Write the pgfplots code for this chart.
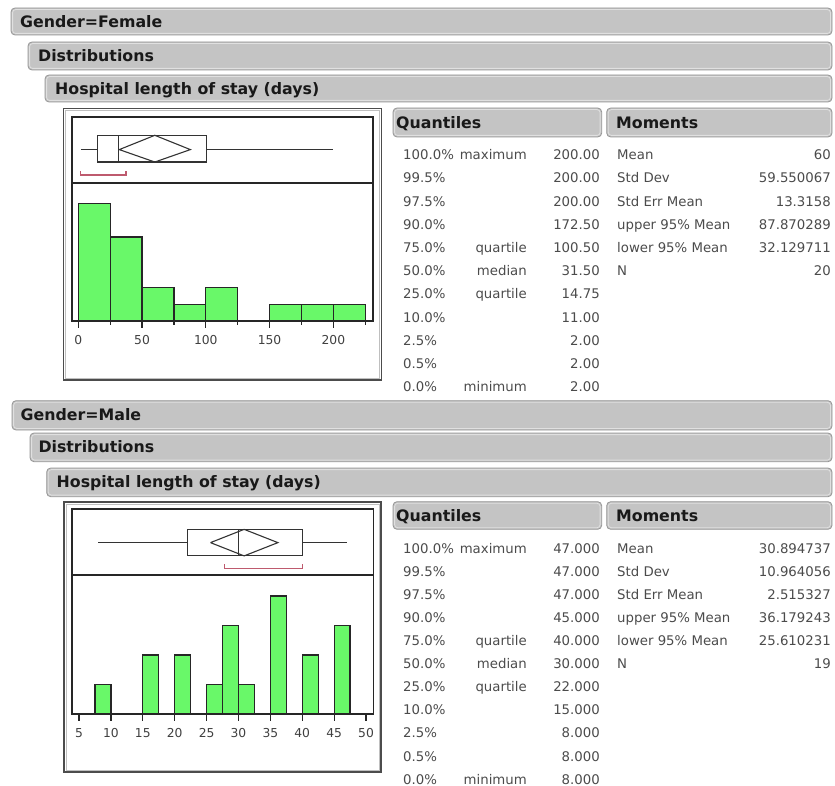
\documentclass[border=0pt]{standalone}
\usepackage{fontspec}
\setmainfont{DejaVu Sans}
\usepackage{pgfplots}
\pgfplotsset{compat=1.18}
\definecolor{hdrfill}{RGB}{196,196,196}
\definecolor{hdrdraw}{RGB}{150,150,150}
\definecolor{hdrhi}{RGB}{224,224,224}
\definecolor{histgreen}{RGB}{105,248,105}
\definecolor{shred}{RGB}{190,90,110}
\definecolor{tabtext}{RGB}{75,75,75}
\definecolor{hdrtext}{RGB}{25,25,25}
\newcommand\hdrfont{\fontsize{15.8}{18}\selectfont\bfseries}
\newcommand\tabfont{\fontsize{13.3}{15}\selectfont}
% x1, y1, x2, y2, textx, text
\newcommand\hdrbar[6]{%
 \fill[hdrfill, rounded corners=4pt] (#1,-#2) rectangle (#3,-#4);
 \draw[hdrhi, line width=0.8pt, rounded corners=3pt] (#1+1.6,-#2-1.6) rectangle (#3-1.6,-#4+1.6);
 \draw[hdrdraw, line width=0.8pt, rounded corners=4pt] (#1,-#2) rectangle (#3,-#4);
 \node[anchor=base west, inner sep=0, font=\hdrfont, text=hdrtext] at (#5, {-(#2+#4)/2-5.6}) {#6};
}
\newcommand\qrow[4]{%
 \node[anchor=base west, inner sep=0, font=\tabfont, text=tabtext] at (403,{-(#1+4.8)}) {#2};
 \node[anchor=base east, inner sep=0, font=\tabfont, text=tabtext] at (527,{-(#1+4.8)}) {#3};
 \node[anchor=base east, inner sep=0, font=\tabfont, text=tabtext] at (600,{-(#1+4.8)}) {#4};}
\newcommand\mrow[3]{%
 \node[anchor=base west, inner sep=0, font=\tabfont, text=tabtext] at (617,{-(#1+4.8)}) {#2};
 \node[anchor=base east, inner sep=0, font=\tabfont, text=tabtext] at (831,{-(#1+4.8)}) {#3};}
\pgfplotsset{jmp/.style={
  scale only axis, anchor=south west, clip=false, ymin=0,
  axis line style={black!85, line width=1.3pt},
  ytick=\empty, xtick pos=left,
  tick align=outside, major tick length=6.5pt, minor tick length=3.5pt,
  tick style={black!85, line width=1.2pt},
  xticklabel style={font=\fontsize{12.3}{14}\selectfont, text=black!75, yshift=-4pt},
  /pgf/number format/assume math mode=true,
}}
\begin{document}
\begin{tikzpicture}
\begin{scope}[x=1pt,y=1pt]
\path (0,0) rectangle (835,-786);
\coordinate (fsw) at (72,-321);
\coordinate (msw) at (72,-714);
% ---------- Female ----------
\hdrbar{11}{8}{832}{35}{20}{Gender=Female}
\hdrbar{28}{42}{832}{70}{38}{Distributions}
\hdrbar{45}{75}{832}{102}{55}{Hospital length of stay (days)}
\hdrbar{393}{108}{601.7}{137}{396}{Quantiles}
\hdrbar{606.7}{108}{832}{137}{616}{Moments}
\draw[black!70, line width=1.5pt] (63.5,-108.5) rectangle (381.5,-380);
\draw[black!25, line width=0.6pt] (65.5,-110.5) rectangle (379.5,-378);
\qrow{155}{100.0\%}{maximum}{200.00}
\qrow{178.2}{99.5\%}{}{200.00}
\qrow{201.3}{97.5\%}{}{200.00}
\qrow{224.5}{90.0\%}{}{172.50}
\qrow{247.7}{75.0\%}{quartile}{100.50}
\qrow{270.9}{50.0\%}{median}{31.50}
\qrow{294}{25.0\%}{quartile}{14.75}
\qrow{317.2}{10.0\%}{}{11.00}
\qrow{340.4}{2.5\%}{}{2.00}
\qrow{363.5}{0.5\%}{}{2.00}
\qrow{386.7}{0.0\%}{minimum}{2.00}
\mrow{155}{Mean}{60}
\mrow{178.2}{Std Dev}{59.550067}
\mrow{201.3}{Std Err Mean}{13.3158}
\mrow{224.5}{upper 95\% Mean}{87.870289}
\mrow{247.7}{lower 95\% Mean}{32.129711}
\mrow{270.9}{N}{20}
% ---------- Male ----------
\hdrbar{12}{400.7}{832}{430}{20.5}{Gender=Male}
\hdrbar{30}{433}{832}{461.7}{38.3}{Distributions}
\hdrbar{46.7}{468}{832}{496.7}{56.5}{Hospital length of stay (days)}
\hdrbar{393}{501.7}{601.7}{529.3}{396}{Quantiles}
\hdrbar{606.7}{501.7}{832}{529.3}{616}{Moments}
\draw[black!70, line width=1.5pt] (64,-502) rectangle (381,-772);
\draw[black!25, line width=0.6pt] (66,-504) rectangle (379,-770);
\qrow{548.3}{100.0\%}{maximum}{47.000}
\qrow{571.4}{99.5\%}{}{47.000}
\qrow{594.5}{97.5\%}{}{47.000}
\qrow{617.6}{90.0\%}{}{45.000}
\qrow{640.7}{75.0\%}{quartile}{40.000}
\qrow{663.8}{50.0\%}{median}{30.000}
\qrow{686.9}{25.0\%}{quartile}{22.000}
\qrow{710}{10.0\%}{}{15.000}
\qrow{733.1}{2.5\%}{}{8.000}
\qrow{756.2}{0.5\%}{}{8.000}
\qrow{779.3}{0.0\%}{minimum}{8.000}
\mrow{548.3}{Mean}{30.894737}
\mrow{571.4}{Std Dev}{10.964056}
\mrow{594.5}{Std Err Mean}{2.515327}
\mrow{617.6}{upper 95\% Mean}{36.179243}
\mrow{640.7}{lower 95\% Mean}{25.610231}
\mrow{663.8}{N}{19}
\end{scope}
\begin{axis}[jmp, at={(fsw)}, width=301pt, height=204pt,
  xmin=-4.94, xmax=231.1, ymax=12.14,
  xtick={0,50,100,150,200}, minor xtick={25,75,125,175,225}]
\addplot[ybar interval, fill=histgreen, draw=black!85, line width=1.2pt]
  coordinates {(0,7)(25,5)(50,2)(75,1)(100,2)(125,0)(150,1)(175,1)(200,1)(225,1)};
\addplot[black!85, line width=1.3pt] coordinates {(-4.94,8.21)(231.1,8.21)};
\addplot[black!80, line width=1.1pt] coordinates {(2,10.2)(200,10.2)};
\addplot[black!80, line width=1.1pt, fill=white] coordinates {(14.75,9.46)(100.5,9.46)(100.5,11.05)(14.75,11.05)(14.75,9.46)};
\addplot[black!80, line width=1.1pt] coordinates {(31.5,9.46)(31.5,11.05)};
\addplot[black!80, line width=1.1pt] coordinates {(32.13,10.2)(60,11.05)(87.87,10.2)(60,9.46)(32.13,10.2)};
\addplot[shred, line width=1.1pt] coordinates {(2,8.9)(2,8.69)(37.4,8.69)(37.4,8.9)};
\end{axis}
\begin{axis}[jmp, at={(msw)}, width=301.3pt, height=205pt,
  xmin=3.90, xmax=51.14, ymax=6.95,
  xtick={5,10,15,20,25,30,35,40,45,50}]
\addplot[ybar interval, fill=histgreen, draw=black!85, line width=1.2pt]
  coordinates {(7.5,1)(10,0)(12.5,0)(15,2)(17.5,0)(20,2)(22.5,0)(25,1)(27.5,3)(30,1)(32.5,0)(35,4)(37.5,0)(40,2)(42.5,0)(45,3)(47.5,0)};
\addplot[black!85, line width=1.3pt] coordinates {(3.90,4.71)(51.14,4.71)};
\addplot[black!80, line width=1.1pt] coordinates {(8,5.81)(47,5.81)};
\addplot[black!80, line width=1.1pt, fill=white] coordinates {(22,5.36)(40,5.36)(40,6.26)(22,6.26)(22,5.36)};
\addplot[black!80, line width=1.1pt] coordinates {(30,5.36)(30,6.26)};
\addplot[black!80, line width=1.1pt] coordinates {(25.61,5.81)(30.89,6.26)(36.18,5.81)(30.89,5.36)(25.61,5.81)};
\addplot[shred, line width=1.1pt] coordinates {(27.8,5.08)(27.8,4.92)(40,4.92)(40,5.08)};
\end{axis}
\end{tikzpicture}
\end{document}
